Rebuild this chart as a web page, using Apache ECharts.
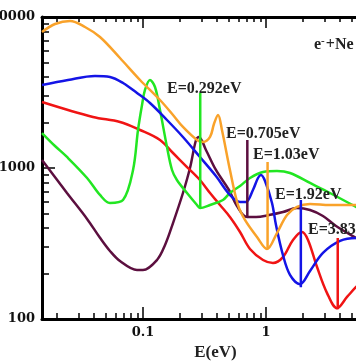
<!DOCTYPE html>
<html><head><meta charset="utf-8">
<script src="https://cdn.jsdelivr.net/npm/echarts@6/dist/echarts.min.js"></script>
<style>html,body{margin:0;padding:0;background:#fff}#c{width:356px;height:364px}</style>
</head><body><div id="c"></div>
<script>
// ---- data (E in eV, cross section) ----
const orangeCurve = [[0.0151,7958],[0.01926,8986],[0.02552,9408],[0.03377,8586],[0.0447,7371],[0.065,5352],[0.0946,3827],[0.1375,2820],[0.1754,2244],[0.2113,1869],[0.2748,1533],[0.3076,1487],[0.3508,1605],[0.3776,1956],[0.4075,2244],[0.4385,1785],[0.5093,970],[0.5916,569],[0.6745,453],[0.845,349],[1.019,291],[1.228,371],[1.482,488],[1.786,552],[2.28,578],[3.31,569],[5.4,569],[6.4,569]];
const greenCurve = [[0.0151,1705],[0.01926,1399],[0.0241,1183],[0.0351,859],[0.0447,663],[0.0539,587],[0.0688,614],[0.083,970],[0.0911,1785],[0.0982,2614],[0.1038,3286],[0.114,3827],[0.1252,3440],[0.1375,2422],[0.1567,1378],[0.1722,970],[0.1887,833],[0.228,683],[0.2748,569],[0.2904,543],[0.3508,569],[0.4467,614],[0.5093,683],[0.615,760],[0.741,859],[0.946,941],[1.228,955],[1.567,927],[2.28,796],[3.31,683],[5.4,552],[6.4,510]];
const blueCurve = [[0.0151,3546],[0.02455,3827],[0.0407,4067],[0.0539,4006],[0.0688,3655],[0.0894,3139],[0.114,2695],[0.1567,2079],[0.2113,1605],[0.2904,1183],[0.3917,885],[0.5093,663],[0.615,596],[0.687,596],[0.783,715],[0.861,859],[0.91,899],[0.982,820],[1.119,587],[1.206,419],[1.374,265],[1.567,196],[1.888,170],[2.28,208],[2.904,274],[4.0,329],[5.4,344],[6.4,344]];
const redCurve = [[0.0151,2736],[0.0392,2177],[0.065,2017],[0.0946,1785],[0.1375,1533],[0.1754,1257],[0.228,1015],[0.2904,833],[0.3508,683],[0.4227,569],[0.5093,474],[0.615,377],[0.741,291],[0.946,246],[1.14,235],[1.374,257],[1.658,334],[1.962,377],[2.195,334],[2.6,221],[3.13,149],[3.78,118],[4.56,140],[5.4,163],[6.4,185]];
const purpleCurve = [[0.0151,1130],[0.0241,683],[0.0351,460],[0.0447,345],[0.0539,282],[0.065,242],[0.0894,211],[0.1,211],[0.13,246],[0.1511,309],[0.1754,432],[0.2113,683],[0.241,1000],[0.2698,1533],[0.285,1605],[0.325,1316],[0.3917,970],[0.5,715],[0.5808,560],[0.701,474],[0.83,474],[1.058,488],[1.374,511],[1.786,543],[2.28,527],[2.904,481],[3.71,413],[5.4,344],[6.4,320]];
const greenMarker  = [[0.292,3139],[0.292,543]];
const purpleMarker = [[0.705,1533],[0.705,474]];
const orangeMarker = [[1.03,1096],[1.03,290]];
const blueMarker   = [[1.92,614],[1.92,162]];
const redMarker    = [[3.83,344],[3.83,116]];
const resonanceLabels = ['E=0.292eV','E=0.705eV','E=1.03eV','E=1.92eV','E=3.83eV'];
// ---- ticks ----
const xMajorTicks = [0.1, 1];
const xMinorTicks = [0.02,0.03,0.04,0.05,0.06,0.07,0.08,0.09,0.2,0.3,0.4,0.5,0.6,0.7,0.8,0.9,2,3,4,5,6,7,8,9];
const yMajorTicks = [100, 1000, 10000];
const yMinorTicks = [200,300,400,500,600,700,800,900,2000,3000,4000,5000,6000,7000,8000,9000];
const xTickLabels = ['0.1', '1'];
const yTickLabels = ['100', '1000', '10000'];

const COLORS = {orange:'#f9a22a', green:'#22e622', blue:'#1414e6', red:'#f01414', purple:'#5c0f3f'};
const LABEL_FONT = 'DejaVu Serif';
const ANNOT_FONT = 'Liberation Serif';

function xAx(pos, ticks, len, line, labels) {
  return {
    type: 'log', logBase: 10, position: pos, min: 0.0151, max: 10,
    axisLine: {show: line, onZero: false, lineStyle: {color: '#000', width: 3}},
    axisTick: {show: true, inside: true, length: len, customValues: ticks, lineStyle: {color: '#000', width: 1.5}},
    axisLabel: labels ? {show: true, customValues: ticks, margin: 7, color: '#111',
      fontFamily: LABEL_FONT, fontWeight: 'bold', fontSize: 13,
      formatter: v => { const i = xMajorTicks.findIndex(t => Math.abs(t - v) / t < 1e-6); return i >= 0 ? xTickLabels[i] : ''; }} : {show: false},
    splitLine: {show: false}, minorTick: {show: false}, minorSplitLine: {show: false}
  };
}
function yAx(ticks, len, line, labels) {
  return {
    type: 'log', logBase: 10, position: 'left', min: 100, max: 10000,
    axisLine: {show: line, onZero: false, lineStyle: {color: '#000', width: 3}},
    axisTick: {show: true, inside: true, length: len, customValues: ticks, lineStyle: {color: '#000', width: 1.5}},
    axisLabel: labels ? {show: true, customValues: ticks, margin: 7, color: '#111',
      fontFamily: LABEL_FONT, fontWeight: 'bold', fontSize: 13,
      formatter: v => { const i = yMajorTicks.findIndex(t => Math.abs(t - v) / t < 1e-6); return i >= 0 ? yTickLabels[i] : ''; }} : {show: false},
    splitLine: {show: false}, minorTick: {show: false}, minorSplitLine: {show: false}
  };
}
function curve(data, color, smooth) {
  return {type: 'line', data: data, xAxisIndex: 0, yAxisIndex: 0, showSymbol: false, symbol: 'none',
    smooth: smooth, lineStyle: {color: color, width: 2.5}, itemStyle: {color: color}, animation: false};
}

const chart = echarts.init(document.getElementById('c'), null, {renderer: 'canvas'});
const xAxes = [xAx('bottom', xMajorTicks, 12, true, true), xAx('bottom', xMinorTicks, 6, false, false),
               xAx('top', xMajorTicks, 11, true, false), xAx('top', xMinorTicks, 5, false, false)];
xAxes[0].name = 'E(eV)';
xAxes[0].nameLocation = 'middle';
xAxes[0].nameGap = 25;
xAxes[0].nameTextStyle = {fontFamily: ANNOT_FONT, fontWeight: 'bold', fontSize: 17, color: '#222'};

const annot = (text, x, y) => ({type: 'text', x: x, y: y, z: 100,
  style: {text: text, fill: '#222', font: 'bold 16px "' + ANNOT_FONT + '"', verticalAlign: 'middle', align: 'left'}});

chart.setOption({
  animation: false,
  grid: {left: 42, top: 17, right: -33, bottom: 45, containLabel: false, outerBoundsMode: 'none'},
  xAxis: xAxes,
  yAxis: [yAx(yMajorTicks, 13, true, true), yAx(yMinorTicks, 7, false, false)],
  series: [
    curve(purpleCurve, COLORS.purple, 0.35),
    curve(redCurve, COLORS.red, 0.35),
    curve(greenCurve, COLORS.green, 0.35),
    curve(blueCurve, COLORS.blue, 0.35),
    curve(orangeCurve, COLORS.orange, 0.35),
    curve(greenMarker, COLORS.green, false),
    curve(purpleMarker, COLORS.purple, false),
    curve(orangeMarker, COLORS.orange, false),
    curve(blueMarker, COLORS.blue, false),
    curve(redMarker, COLORS.red, false)
  ],
  graphic: [
    annot(resonanceLabels[0], 167, 89),
    annot(resonanceLabels[1], 226, 134),
    annot(resonanceLabels[2], 253, 155),
    annot(resonanceLabels[3], 275, 195),
    annot(resonanceLabels[4], 308, 230),
    {type: 'text', x: 314, y: 45, z: 100, style: {
      text: '{b|e}{s|-}{b|+Ne}', verticalAlign: 'middle', align: 'left',
      rich: {b: {font: 'bold 16px "' + ANNOT_FONT + '"', fill: '#222'},
             s: {font: 'bold 11px "' + ANNOT_FONT + '"', fill: '#222', verticalAlign: 'top', padding: [0,1,8,0]}}}}
  ]
});
</script></body></html>
